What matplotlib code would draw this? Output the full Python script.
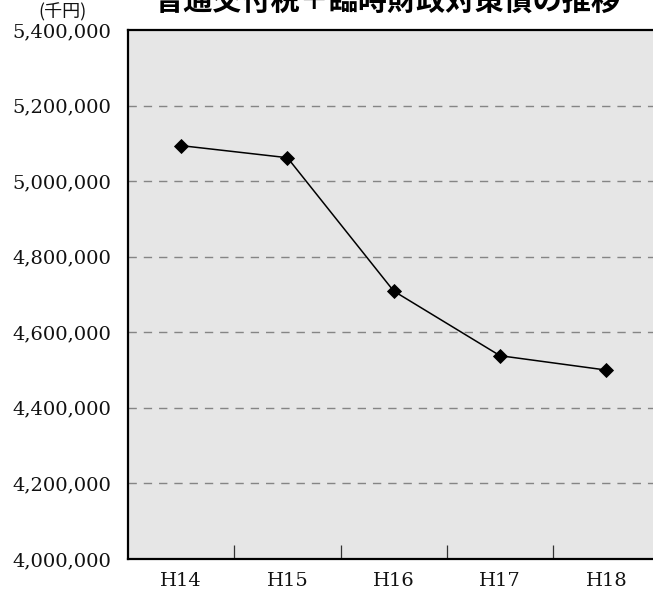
import matplotlib
matplotlib.use("Agg")
import matplotlib.pyplot as plt
from matplotlib.ticker import FuncFormatter, FixedLocator

categories = ["H14", "H15", "H16", "H17", "H18"]
values = [5094000, 5062000, 4709000, 4538000, 4500000]
y_ticks = [4000000, 4200000, 4400000, 4600000, 4800000, 5000000, 5200000, 5400000]
title = "普通交付税＋臨時財政対策債の推移"
unit = "(千円)"

W, H = 653, 590
fig = plt.figure(figsize=(W / 100, H / 100), dpi=100)
left, right, top, bottom = 128, 659.5, 30, 559
ax = fig.add_axes([left / W, 1 - bottom / H, (right - left) / W, (bottom - top) / H])
ax.set_facecolor("#e6e6e6")

x = list(range(len(categories)))
ax.plot(x, values, color="black", lw=1.1, marker="D", ms=6.8,
        markerfacecolor="black", markeredgecolor="black", mew=0.6, zorder=3)

ax.set_xlim(-0.5, len(categories) - 0.5)
ax.set_ylim(4000000, 5400000)

ax.set_yticks(y_ticks)
ax.yaxis.set_major_formatter(FuncFormatter(lambda v, p: f"{int(v):,}"))
for v in y_ticks[1:-1]:
    ax.axhline(v, color="#858585", lw=1.0, dashes=(6, 5), zorder=1)

ax.set_xticks(x)
ax.set_xticklabels(categories)
ax.xaxis.set_minor_locator(FixedLocator([i + 0.5 for i in range(len(categories) - 1)]))
ax.tick_params(axis="x", which="major", length=0, pad=9)
ax.tick_params(axis="x", which="minor", length=10, width=0.9, direction="in", color="#333333")
ax.tick_params(axis="y", which="major", length=0, pad=12)

for lab in ax.get_xticklabels() + ax.get_yticklabels():
    lab.set_fontfamily("DejaVu Serif")
    lab.set_fontsize(14)
    lab.set_color("#111111")

for s in ["left", "bottom", "top"]:
    ax.spines[s].set_linewidth(1.6)
    ax.spines[s].set_color("black")
ax.spines["right"].set_visible(False)

fig.text(387.5 / W, 1 - 10 / H, title, ha="center", va="baseline",
         fontsize=21, fontweight="bold", family=["Noto Sans CJK JP", "DejaVu Sans"])
fig.text(63 / W, 1 - 12 / H, unit, ha="center", va="center",
         fontsize=13, family=["Noto Sans CJK JP", "DejaVu Sans"], color="#111111")

fig.savefig("out.png", dpi=100)
